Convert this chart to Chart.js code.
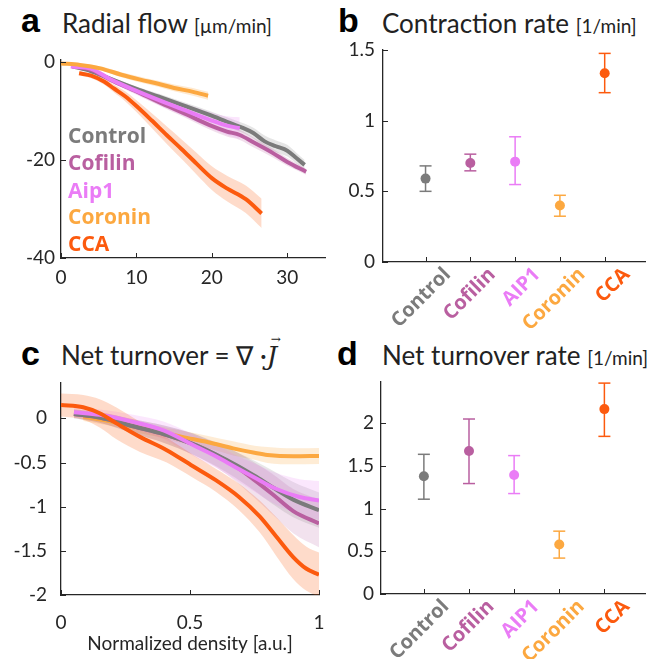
<!DOCTYPE html>
<html>
<head>
<meta charset="utf-8">
<script src="https://cdn.jsdelivr.net/npm/chart.js@4"></script>
<style>
  body { margin: 0; width: 651px; height: 659px; position: relative; background: #fff; overflow: hidden; font-family: Lato, sans-serif; color: #1a1a1a; }
  .box { position: absolute; }
  .letter { position: absolute; font-family: "Liberation Sans", Arial, sans-serif; font-weight: bold; font-size: 34px; line-height: 1; color: #000; }
  .title { position: absolute; font-size: 26px; line-height: 1; white-space: nowrap; color: #222; }
  .title small { font-size: 19px; }
  .legend { position: absolute; font-family: "Open Sans", sans-serif; font-weight: bold; font-size: 21px; line-height: 1; white-space: nowrap; }
  .vec { position: relative; font-family: "DejaVu Serif", serif; font-style: italic; }
  .vec span { position: absolute; left: 4px; top: -8px; font-size: 12px; font-style: normal; }
</style>
</head>
<body>

<div class="letter" style="left:21px;top:3px">a</div>
<div class="title" style="left:62px;top:10px">Radial flow <small>[µm/min]</small></div>
<div class="letter" style="left:338px;top:3px">b</div>
<div class="title" style="left:382px;top:10px">Contraction rate <small>[1/min]</small></div>
<div class="letter" style="left:21px;top:336px">c</div>
<div class="title" style="left:61px;top:342px">Net turnover = ∇ ·<span class="vec">J<span>→</span></span></div>
<div class="letter" style="left:337px;top:336px">d</div>
<div class="title" style="left:382px;top:342px">Net turnover rate <small>[1/min]</small></div>

<div class="box" style="left:0;top:40px"><canvas id="chartA" width="330" height="250"></canvas></div>
<div class="box" style="left:330px;top:40px"><canvas id="chartB" width="321" height="300"></canvas></div>
<div class="box" style="left:0;top:370px"><canvas id="chartC" width="330" height="289"></canvas></div>
<div class="box" style="left:330px;top:370px"><canvas id="chartD" width="321" height="289"></canvas></div>
<div id="legendA"></div>

<script>
const seriesNames = ["Control", "Cofilin", "Aip1", "Coronin", "CCA"];
const categoryLabels = ["Control", "Cofilin", "AIP1", "Coronin", "CCA"];
const seriesColors = ["#7b7b7b", "#b95fa0", "#ea7cf6", "#fca840", "#fc5a0e"];
const axisColor = "#262626";

// panel a: radial flow vs density
const aControlX = [1.5, 4, 6.5, 10, 13, 16.5, 19.7, 22, 24, 25.5, 27, 28.5, 30, 31.2, 32.3];
const aControlY = [-0.9, -1.9, -3.4, -5.5, -7.1, -9.0, -10.8, -12.2, -13.4, -14.5, -16.2, -17.2, -18.1, -19.6, -21.0];
const aControlBand = [0.3, 0.3, 0.4, 0.5, 0.6, 0.7, 0.8, 0.9, 1.0, 1.1, 1.2, 1.2, 1.2, 1.1, 1.0];

const aCofilinX = [1.5, 4, 6.5, 10, 13, 16.5, 19.7, 22, 23.7, 25.5, 28.1, 30, 32.5];
const aCofilinY = [-0.9, -1.6, -3.6, -6.0, -8.2, -10.6, -12.9, -14.2, -14.9, -16.4, -18.6, -20.4, -22.4];
const aCofilinBand = [0.3, 0.3, 0.4, 0.6, 0.7, 0.8, 0.9, 1.0, 1.0, 1.0, 0.9, 0.8, 0.6];

const aAip1X = [1.3, 4, 6.5, 10, 13, 16.5, 19.7, 22, 23.7];
const aAip1Y = [-0.95, -1.4, -3.5, -5.9, -7.8, -9.9, -11.8, -13.0, -13.5];
const aAip1Band = [0.3, 0.4, 0.6, 0.8, 1.0, 1.3, 1.6, 1.9, 2.2];

const aCoroninX = [0, 2.5, 5.2, 8, 10.5, 13, 15, 17.5, 19.5];
const aCoroninY = [-0.3, -0.6, -1.3, -2.6, -3.6, -4.5, -5.3, -6.1, -6.9];
const aCoroninBand = [0.3, 0.3, 0.4, 0.5, 0.6, 0.6, 0.7, 0.8, 0.8];

const aCcaX = [2.4, 4, 5.7, 7, 8.5, 10, 12, 14, 16, 18, 20, 22, 24.5, 26.6];
const aCcaY = [-2.3, -2.8, -4.0, -5.4, -7.0, -9.0, -11.9, -14.9, -17.8, -20.8, -23.7, -25.8, -28.0, -30.9];
const aCcaBand = [0.4, 0.5, 0.6, 0.8, 1.0, 1.2, 1.5, 1.8, 2.0, 2.2, 2.4, 2.6, 2.8, 3.0];

const aXTicks = [0, 10, 20, 30];
const aYTicks = [-40, -20, 0];

// panel b: contraction rate
const bMean = [0.59, 0.70, 0.71, 0.40, 1.335];
const bLow = [0.50, 0.645, 0.548, 0.324, 1.198];
const bHigh = [0.68, 0.763, 0.886, 0.472, 1.476];
const bYTicks = [0, 0.5, 1, 1.5];

// panel c: net turnover vs normalized density
const cControlX = [0.05, 0.15, 0.28, 0.4, 0.51, 0.6, 0.68, 0.75, 0.82, 0.9, 1.0];
const cControlY = [0.05, 0.01, -0.09, -0.18, -0.29, -0.41, -0.53, -0.65, -0.78, -0.92, -1.04];
const cControlBand = [0.05, 0.06, 0.08, 0.1, 0.12, 0.13, 0.15, 0.17, 0.19, 0.2, 0.2];

const cCofilinX = [0.05, 0.15, 0.28, 0.4, 0.51, 0.6, 0.68, 0.75, 0.82, 0.9, 1.0];
const cCofilinY = [0.05, 0.01, -0.09, -0.18, -0.29, -0.41, -0.55, -0.70, -0.86, -1.05, -1.19];
const cCofilinBand = [0.05, 0.06, 0.08, 0.1, 0.12, 0.14, 0.17, 0.2, 0.23, 0.25, 0.27];

const cAip1X = [0.05, 0.15, 0.28, 0.4, 0.51, 0.6, 0.68, 0.75, 0.835, 0.925, 1.0];
const cAip1Y = [0.07, 0.04, -0.04, -0.14, -0.30, -0.43, -0.56, -0.67, -0.80, -0.89, -0.93];
const cAip1Band = [0.05, 0.06, 0.08, 0.1, 0.12, 0.13, 0.14, 0.16, 0.18, 0.2, 0.22];

const cCoroninX = [0.086, 0.2, 0.28, 0.38, 0.47, 0.57, 0.667, 0.75, 0.8, 0.9, 1.0];
const cCoroninY = [0.02, -0.04, -0.094, -0.15, -0.21, -0.27, -0.34, -0.39, -0.415, -0.43, -0.426];
const cCoroninBand = [0.05, 0.05, 0.06, 0.06, 0.07, 0.07, 0.08, 0.08, 0.09, 0.09, 0.09];

const cCcaX = [0, 0.086, 0.15, 0.215, 0.306, 0.41, 0.51, 0.60, 0.69, 0.77, 0.835, 0.9, 0.95, 1.0];
const cCcaY = [0.15, 0.125, 0.057, -0.057, -0.21, -0.36, -0.54, -0.70, -0.89, -1.11, -1.34, -1.57, -1.70, -1.77];
const cCcaBand = [0.13, 0.14, 0.16, 0.18, 0.17, 0.14, 0.13, 0.13, 0.15, 0.18, 0.22, 0.25, 0.25, 0.25];

const cXTicks = [0, 0.5, 1];
const cYTicks = [-2, -1.5, -1, -0.5, 0];

// panel d: net turnover rate
const dMean = [1.377, 1.673, 1.393, 0.58, 2.163];
const dLow = [1.109, 1.292, 1.175, 0.42, 1.844];
const dHigh = [1.634, 2.047, 1.619, 0.735, 2.467];
const dYTicks = [0, 0.5, 1, 1.5, 2];

const tickFont = { family: "Lato", size: 19 };

// MATLAB style ticks pointing into the plot
const innerTicks = {
    id: "innerTicks",
    afterDraw(chart) {
        const { ctx, chartArea } = chart;
        const x = chart.scales.x, y = chart.scales.y;
        ctx.save();
        ctx.strokeStyle = axisColor;
        ctx.lineWidth = 1;
        ctx.beginPath();
        x.ticks.forEach(t => {
            const px = Math.round(x.getPixelForValue(t.value)) + 0.5;
            ctx.moveTo(px, chartArea.bottom);
            ctx.lineTo(px, chartArea.bottom - 5);
        });
        y.ticks.forEach(t => {
            const py = Math.round(y.getPixelForValue(t.value)) + 0.5;
            ctx.moveTo(chartArea.left, py);
            ctx.lineTo(chartArea.left + 5, py);
        });
        ctx.stroke();
        ctx.restore();
    }
};

function alpha(hex, a) {
    const n = parseInt(hex.slice(1), 16);
    return `rgba(${n >> 16}, ${(n >> 8) & 255}, ${n & 255}, ${a})`;
}

function points(xs, ys) {
    return xs.map((x, i) => ({ x: x, y: ys[i] }));
}

function curveDatasets(groups) {
    // lines first (dataset 0 ends up on top), bands after
    const lines = [];
    const bands = [];
    groups.forEach(g => {
        lines.push({
            label: g.name,
            data: points(g.x, g.y),
            showLine: true,
            borderColor: g.color,
            borderWidth: 4,
            pointRadius: 0,
            tension: 0.4,
            cubicInterpolationMode: "monotone",
            fill: false
        });
        bands.push({
            data: points(g.x, g.y.map((v, i) => v + g.band[i])),
            showLine: true,
            borderWidth: 0,
            pointRadius: 0,
            cubicInterpolationMode: "monotone",
            fill: false
        });
        bands.push({
            data: points(g.x, g.y.map((v, i) => v - g.band[i])),
            showLine: true,
            borderWidth: 0,
            pointRadius: 0,
            cubicInterpolationMode: "monotone",
            backgroundColor: alpha(g.color, g.alpha),
            fill: "-1"
        });
    });
    return lines.concat(bands);
}

function fixedTicks(values) {
    return scale => { scale.ticks = values.map(v => ({ value: v })); };
}

// lock the scale box and drop the label overflow padding
function lockSize(prop, size) {
    return s => {
        s[prop] = size;
        s.paddingLeft = s.paddingRight = s.paddingTop = s.paddingBottom = 0;
    };
}

function axis(min, max, ticks, extra) {
    return Object.assign({
        type: "linear",
        min: min,
        max: max,
        afterBuildTicks: fixedTicks(ticks),
        grid: { display: true, drawOnChartArea: false, drawTicks: false },
        border: { display: true, color: axisColor, width: 1.3 },
        ticks: { color: axisColor, font: tickFont, callback: v => String(v), autoSkip: false, maxRotation: 0 }
    }, extra || {});
}

function curveChart(id, groups, xRange, yRange, fit, extraX) {
    const x = axis(xRange[0], xRange[1], xRange[2], extraX);
    x.ticks.padding = fit.xPad;
    x.afterFit = lockSize("height", fit.xh);
    const y = axis(yRange[0], yRange[1], yRange[2]);
    y.ticks.padding = fit.yPad;
    y.afterFit = lockSize("width", fit.yw);
    new Chart(document.getElementById(id), {
        type: "scatter",
        data: { datasets: curveDatasets(groups) },
        options: {
            responsive: false,
            animation: false,
            layout: { autoPadding: false, padding: fit.padding },
            plugins: { legend: { display: false }, tooltip: { enabled: false }, filler: { drawTime: "beforeDatasetsDraw" } },
            scales: { x: x, y: y }
        },
        plugins: [innerTicks]
    });
}

function errorChart(id, mean, low, high, yMax, yTicks, fit) {
    const datasets = [{
        data: mean.map((v, i) => ({ x: i + 1, y: v })),
        pointRadius: 5,
        pointBackgroundColor: seriesColors,
        pointBorderWidth: 0
    }];
    mean.forEach((v, i) => {
        datasets.push({
            data: [{ x: i + 1, y: low[i] }, { x: i + 1, y: high[i] }],
            showLine: true,
            borderColor: seriesColors[i],
            borderWidth: 1.5,
            pointStyle: "line",
            pointRadius: 6,
            pointBorderWidth: 1.5,
            pointBorderColor: seriesColors[i]
        });
    });
    const x = axis(0.05, 5.9, [1, 2, 3, 4, 5]);
    x.ticks = {
        autoSkip: false,
        minRotation: 45,
        maxRotation: 45,
        padding: fit.xPad,
        labelOffset: fit.labelOffset,
        font: { family: "Open Sans", size: 20, weight: "bold" },
        color: c => seriesColors[c.index],
        callback: (v, i) => categoryLabels[i]
    };
    x.afterFit = lockSize("height", fit.xh);
    const y = axis(0, yMax, yTicks);
    y.ticks.padding = fit.yPad;
    y.afterFit = lockSize("width", fit.yw);
    new Chart(document.getElementById(id), {
        type: "scatter",
        data: { datasets: datasets },
        options: {
            responsive: false,
            animation: false,
            layout: { autoPadding: false, padding: fit.padding },
            plugins: { legend: { display: false }, tooltip: { enabled: false } },
            scales: { x: x, y: y }
        },
        plugins: [innerTicks]
    });
}

const groupsA = [
    { name: "CCA", x: aCcaX, y: aCcaY, band: aCcaBand, color: seriesColors[4], alpha: 0.22 },
    { name: "Coronin", x: aCoroninX, y: aCoroninY, band: aCoroninBand, color: seriesColors[3], alpha: 0.25 },
    { name: "Aip1", x: aAip1X, y: aAip1Y, band: aAip1Band, color: seriesColors[2], alpha: 0.2 },
    { name: "Cofilin", x: aCofilinX, y: aCofilinY, band: aCofilinBand, color: seriesColors[1], alpha: 0.2 },
    { name: "Control", x: aControlX, y: aControlY, band: aControlBand, color: seriesColors[0], alpha: 0.2 }
];

const groupsC = [
    { name: "CCA", x: cCcaX, y: cCcaY, band: cCcaBand, color: seriesColors[4], alpha: 0.22 },
    { name: "Aip1", x: cAip1X, y: cAip1Y, band: cAip1Band, color: seriesColors[2], alpha: 0.18 },
    { name: "Control", x: cControlX, y: cControlY, band: cControlBand, color: seriesColors[0], alpha: 0.18 },
    { name: "Cofilin", x: cCofilinX, y: cCofilinY, band: cCofilinBand, color: seriesColors[1], alpha: 0.18 },
    { name: "Coronin", x: cCoroninX, y: cCoroninY, band: cCoroninBand, color: seriesColors[3], alpha: 0.22 }
];

curveChart("chartA", groupsA, [0, 35, aXTicks], [-40, 0.4, aYTicks],
    { xh: 32, yw: 61, xPad: 8, yPad: 6, padding: { left: 0, right: 5, top: 20, bottom: 0 } });

errorChart("chartB", bMean, bLow, bHigh, 1.5, bYTicks,
    { xh: 78, yw: 53, xPad: 1, yPad: 8, labelOffset: 22, padding: { left: 0, right: 6, top: 10, bottom: 0 } });

curveChart("chartC", groupsC, [0, 1, cXTicks], [-2, 0.4, cYTicks],
    { xh: 64, yw: 61, xPad: 16, yPad: 14, padding: { left: 0, right: 11, top: 13, bottom: 0 } },
    { title: { display: true, text: "Normalized density [a.u.]", color: axisColor, font: { family: "Lato", size: 19 }, padding: { top: 0, bottom: 4 } } });

errorChart("chartD", dMean, dLow, dHigh, 2.48, dYTicks,
    { xh: 65, yw: 51, xPad: 1, yPad: 7, labelOffset: 22, padding: { left: 0, right: 6, top: 12, bottom: 0 } });

// legend text for panel a
const legendTops = [125, 152, 180, 206, 233];
const legend = document.getElementById("legendA");
seriesNames.forEach((name, i) => {
    const el = document.createElement("div");
    el.className = "legend";
    el.style.left = "68px";
    el.style.top = legendTops[i] + "px";
    el.style.color = seriesColors[i];
    el.textContent = name;
    legend.appendChild(el);
});
</script>
</body>
</html>
